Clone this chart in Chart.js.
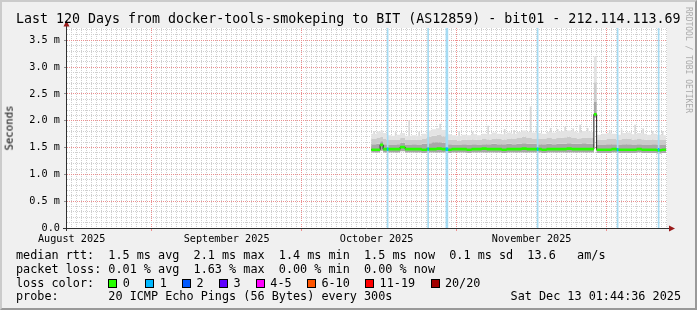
<!DOCTYPE html>
<html>
<head>
<meta charset="utf-8">
<script src="https://cdn.jsdelivr.net/npm/chart.js@4.4.1/dist/chart.umd.min.js"></script>
<style>
  html, body { margin: 0; padding: 0; background: #f0f0f0; }
  #frame { position: relative; width: 697px; height: 310px; overflow: hidden; background: #f0f0f0;
    font-family: "DejaVu Sans Mono", monospace; color: #000; }
  #shade { position: absolute; left: 0; top: 0; width: 697px; height: 310px; box-sizing: border-box;
    border: 2px solid; border-color: #cbcbcb #999999 #999999 #cbcbcb; pointer-events: none; }
  #chart { position: absolute; left: 0; top: 0; }
  .txt { position: absolute; white-space: pre; line-height: 1; }
  .legend { left: 16px; font-size: 11.8px; }
  #title { left: 16px; top: 12px; font-size: 13.3px; }
  #ylabel { left: 10px; top: 128px; font-size: 10.7px; color: #000; transform: translate(-50%, -50%) rotate(-90deg); }
  #credit { left: 688px; top: 60px; font-size: 8px; color: #ababab; transform: translate(-50%, -50%) rotate(90deg); }
  #stamp { right: 16px; top: 291px; font-size: 11.8px; }
  .box { display: inline-block; width: 7px; height: 7px; border: 1px solid #000; vertical-align: -1px; margin-right: 5.4px; }
  .lbl { margin-right: 15.4px; }
</style>
</head>
<body>
<div id="frame">
  <canvas id="chart" width="697" height="260"></canvas>
  <div class="txt" id="title">Last 120 Days from docker-tools-smokeping to BIT (AS12859) - bit01 - 212.114.113.69</div>
  <div class="txt" id="ylabel">Seconds</div>
  <div class="txt" id="credit">RRDTOOL / TOBI OETIKER</div>
  <div class="txt legend" style="top:250px">median rtt:  1.5 ms avg  2.1 ms max  1.4 ms min  1.5 ms now  0.1 ms sd  13.6   am/s</div>
  <div class="txt legend" style="top:264px">packet loss: 0.01 % avg  1.63 % max  0.00 % min  0.00 % now</div>
  <div class="txt legend" id="lossRow" style="top:278px">loss color:  </div>
  <div class="txt legend" style="top:291px">probe:       20 ICMP Echo Pings (56 Bytes) every 300s</div>
  <div class="txt" id="stamp">Sat Dec 13 01:44:36 2025</div>
  <div id="shade"></div>
</div>
<script>
// x values are days counted from Aug 15 2025 00:00
const xStart = 0.0726; // Aug 15 01:44:36
const xEnd = 120.0726; // Dec 13 01:44:36
const yTop = 3.73; // ms

const monthLabelDays = [1, 32, 62, 93];
const monthLabels = ["August 2025", "September 2025", "October 2025", "November 2025"];
const monthStartDays = [17, 47, 78, 108];

const sampleDays = [
  60.9, 62, 62.7, 63.3, 64, 65, 66, 66.7, 67.7,
  69, 70, 71, 72, 73, 74, 75, 76, 77, 78, 79, 80, 81, 82, 83, 84, 85, 86, 87, 88, 89,
  90, 91, 92, 93, 94, 95, 96, 97, 98, 99, 100, 101, 102, 103, 104, 105,
  105.45, 106,
  107, 108, 109, 110, 111, 112, 113, 114, 115, 116, 117, 118, 119,
  119.9,
];

// median rtt (ms)
const medianRtt = [
  1.46, 1.46, 1.55, 1.47, 1.47, 1.47, 1.47, 1.51, 1.47,
  1.47, 1.47, 1.46, 1.47, 1.47, 1.48, 1.47, 1.46, 1.47, 1.47, 1.47, 1.46, 1.47, 1.47, 1.48, 1.47, 1.47, 1.47, 1.46, 1.47, 1.47,
  1.47, 1.48, 1.47, 1.47, 1.47, 1.46, 1.47, 1.47, 1.47, 1.47, 1.48, 1.47, 1.47, 1.47, 1.47, 1.47,
  2.12, 1.46,
  1.46, 1.46, 1.47, 1.46, 1.46, 1.46, 1.46, 1.47, 1.46, 1.46, 1.46, 1.45, 1.46,
  1.46,
];

// smoke: lowest ping, inner band, middle band, highest ping (ms)
const smokeMin = [
  1.41, 1.41, 1.44, 1.41, 1.41, 1.41, 1.41, 1.43, 1.41,
  1.41, 1.41, 1.40, 1.41, 1.41, 1.41, 1.41, 1.40, 1.41, 1.41, 1.41, 1.40, 1.41, 1.41, 1.41, 1.41, 1.41, 1.41, 1.40, 1.41, 1.41,
  1.41, 1.41, 1.41, 1.41, 1.41, 1.40, 1.41, 1.41, 1.41, 1.41, 1.41, 1.41, 1.41, 1.41, 1.41, 1.41,
  2.06, 1.40,
  1.40, 1.40, 1.41, 1.40, 1.40, 1.40, 1.40, 1.41, 1.40, 1.40, 1.40, 1.39, 1.40,
  1.40,
];
const smokeLow = [
  1.56, 1.57, 1.62, 1.56, 1.55, 1.55, 1.56, 1.59, 1.55,
  1.56, 1.55, 1.57, 1.58, 1.60, 1.60, 1.59, 1.56, 1.55, 1.55, 1.56, 1.55, 1.56, 1.55, 1.56, 1.56, 1.57, 1.56, 1.56, 1.57, 1.56,
  1.57, 1.58, 1.57, 1.57, 1.56, 1.56, 1.57, 1.56, 1.57, 1.57, 1.58, 1.57, 1.57, 1.58, 1.57, 1.57,
  2.36, 1.55,
  1.55, 1.56, 1.56, 1.55, 1.56, 1.56, 1.55, 1.56, 1.55, 1.55, 1.56, 1.55, 1.55,
  1.55,
];
const smokeMid = [
  1.66, 1.68, 1.70, 1.66, 1.64, 1.64, 1.65, 1.68, 1.64,
  1.65, 1.64, 1.67, 1.70, 1.72, 1.74, 1.71, 1.65, 1.64, 1.63, 1.65, 1.64, 1.65, 1.64, 1.66, 1.65, 1.67, 1.66, 1.65, 1.67, 1.66,
  1.68, 1.70, 1.68, 1.67, 1.66, 1.66, 1.68, 1.67, 1.68, 1.69, 1.70, 1.68, 1.67, 1.69, 1.68, 1.68,
  2.72, 1.64,
  1.65, 1.66, 1.66, 1.64, 1.66, 1.67, 1.65, 1.66, 1.65, 1.64, 1.65, 1.64, 1.64,
  1.64,
];
const smokeMax = [
  1.76, 1.80, 1.80, 1.77, 1.73, 1.72, 1.74, 1.77, 1.72,
  1.73, 1.72, 1.76, 1.82, 1.84, 1.86, 1.83, 1.75, 1.73, 1.72, 1.74, 1.73, 1.75, 1.73, 1.76, 1.75, 1.78, 1.76, 1.75, 1.78, 1.76,
  1.79, 1.82, 1.79, 1.78, 1.77, 1.76, 1.79, 1.78, 1.80, 1.81, 1.82, 1.80, 1.78, 1.81, 1.80, 1.79,
  3.20, 1.74,
  1.76, 1.77, 1.76, 1.74, 1.77, 1.78, 1.75, 1.77, 1.76, 1.74, 1.76, 1.74, 1.73,
  1.73,
];

// single tall pings sticking out of the smoke
const spikeDays = [
  61.5, 63.0, 65.8, 68.5, 70.5, 74.7, 78.5, 81.2, 84.3, 87.6, 89.5, 92.8, 94.0,
  96.8, 98.2, 99.7, 101.3, 102.7, 104.2, 108.6, 111.0, 113.7, 115.3, 117.2, 119.2,
];
const spikeTop = [
  1.80, 1.82, 1.78, 2.0, 1.79, 1.94, 1.80, 1.79, 1.9, 1.84, 1.82, 2.26, 1.87,
  1.86, 1.84, 1.88, 1.85, 1.92, 1.86, 1.82, 1.83, 1.92, 1.85, 1.80, 1.80,
];
const spikeBottom = 1.6;

// intervals with packet loss
const lossDays = [64.2, 72.3, 75.95, 76.15, 94.2, 110.2, 118.4];
const lossCount = [1, 1, 1, 1, 1, 1, 1];
const lossMedian = [1.47, 1.47, 1.47, 1.47, 1.47, 1.46, 1.46];

const lossLabels = ["0", "1", "2", "3", "4-5", "6-10", "11-19", "20/20"];
const lossColors = ["#26ff00", "#00b8ff", "#0059ff", "#5e00ff", "#ff00fe", "#ff5500", "#ff0000", "#a10000"];

// legend color boxes
const lossRow = document.getElementById("lossRow");
lossLabels.forEach((label, i) => {
  const box = document.createElement("span");
  box.className = "box";
  box.style.background = lossColors[i];
  const txt = document.createElement("span");
  txt.className = "lbl";
  txt.textContent = label;
  lossRow.appendChild(box);
  lossRow.appendChild(txt);
});

const bandHalf = 0.025; // half thickness of the coloured median band
const pts = (arr) => sampleDays.map((d, i) => ({ x: d, y: arr[i] }));
const none = "rgba(0,0,0,0)";

function smokeLayer(arr, fillTo, color, order) {
  return {
    type: "line", data: pts(arr), stepped: true, pointRadius: 0,
    borderWidth: 0, borderColor: none, backgroundColor: color,
    fill: fillTo, order: order,
  };
}

const dayTicks = [];
for (let d = 1; d <= 120; d++) dayTicks.push(d);
const msTicks = [];
for (let i = 0; i <= 37; i++) msTicks.push(i / 10);

const isMajorMs = (v) => Math.round(v * 10) % 5 === 0;
const minorGrid = "#cfcfcf";
const majorGrid = "#ec8f8f";
const tickFont = { family: "DejaVu Sans Mono", size: 10.2 };

const frame = {
  id: "frame",
  beforeDraw(chart) {
    const { ctx, chartArea: a } = chart;
    ctx.save();
    ctx.fillStyle = "#ffffff";
    ctx.fillRect(a.left, a.top, a.right - a.left, a.bottom - a.top);
    ctx.restore();
  },
  afterDraw(chart) {
    const { ctx, chartArea: a } = chart;
    ctx.save();
    ctx.strokeStyle = "#303030";
    ctx.lineWidth = 1;
    ctx.beginPath();
    ctx.moveTo(a.left - 0.5, a.bottom + 3);
    ctx.lineTo(a.left - 0.5, a.top - 3);
    ctx.moveTo(a.left - 4, a.bottom + 0.5);
    ctx.lineTo(a.right + 3, a.bottom + 0.5);
    ctx.stroke();
    ctx.fillStyle = "#991b1b";
    ctx.beginPath();
    ctx.moveTo(a.left - 0.5, a.top - 7.5);
    ctx.lineTo(a.left - 3.5, a.top - 1.5);
    ctx.lineTo(a.left + 2.5, a.top - 1.5);
    ctx.closePath();
    ctx.fill();
    ctx.beginPath();
    ctx.moveTo(a.right + 8, a.bottom + 0.5);
    ctx.lineTo(a.right + 2, a.bottom - 2.5);
    ctx.lineTo(a.right + 2, a.bottom + 3.5);
    ctx.closePath();
    ctx.fill();
    ctx.restore();
  },
};

new Chart(document.getElementById("chart"), {
  type: "line",
  data: {
    datasets: [
      smokeLayer(smokeMin, false, none, 14), // 0
      smokeLayer(smokeLow, 0, "#a8a8a8", 13), // 1
      smokeLayer(smokeMid, 1, "#cbcbcb", 12), // 2
      smokeLayer(smokeMax, 2, "#e3e3e3", 11), // 3
      {
        type: "line", data: pts(medianRtt.map((v) => v - bandHalf)), stepped: true,
        pointRadius: 0, borderWidth: 0, borderColor: none, fill: false, order: 5,
      }, // 4
      {
        type: "line", data: pts(medianRtt.map((v) => v + bandHalf)), stepped: true,
        pointRadius: 0, borderWidth: 0, borderColor: none, backgroundColor: lossColors[0],
        fill: 4, order: 3,
      }, // 5
      {
        type: "line", data: pts(medianRtt), stepped: true, pointRadius: 0,
        borderWidth: 1, borderColor: "#202020", fill: false, order: 4,
      },
      {
        type: "bar", data: spikeDays.map((d, i) => ({ x: d, y: [spikeBottom, spikeTop[i]] })),
        barThickness: 1, grouped: false, backgroundColor: "#d8d8d8", order: 16,
      },
      {
        type: "bar", data: lossDays.map((d) => ({ x: d, y: [0, 1] })), yAxisID: "yLoss",
        barThickness: 1, grouped: false, backgroundColor: "#a6dbf3", order: 8,
      },
      {
        type: "bar",
        data: lossDays.map((d, i) => ({ x: d, y: [lossMedian[i] - bandHalf, lossMedian[i] + bandHalf] })),
        barThickness: 1, grouped: false,
        backgroundColor: lossCount.map((c) => lossColors[c]), order: 1,
      },
    ],
  },
  options: {
    responsive: false,
    animation: false,
    events: [],
    layout: { padding: { left: 0, top: 28, right: 30, bottom: 0 } },
    plugins: {
      legend: { display: false },
      tooltip: { enabled: false },
      filler: { propagate: false },
    },
    scales: {
      x: {
        type: "linear", min: xStart, max: xEnd, offset: false,
        afterFit: (s) => { s.height = 32; },
        afterBuildTicks: (s) => { s.ticks = dayTicks.map((v) => ({ value: v })); },
        ticks: {
          autoSkip: false, maxRotation: 0, padding: 2, color: "#000", font: tickFont,
          callback: (v) => { const i = monthLabelDays.indexOf(v); return i >= 0 ? monthLabels[i] : ""; },
        },
        grid: {
          offset: false, tickLength: 3,
          color: (c) => (monthStartDays.includes(c.tick.value) ? majorGrid : minorGrid),
          tickColor: (c) => (monthStartDays.includes(c.tick.value) ? majorGrid : none),
        },
        border: { display: false, dash: [1, 1] },
      },
      y: {
        type: "linear", min: 0, max: yTop,
        afterFit: (s) => { s.width = 67; },
        afterBuildTicks: (s) => { s.ticks = msTicks.map((v) => ({ value: v })); },
        ticks: {
          autoSkip: false, padding: 4, color: "#000", font: tickFont,
          callback: (v) => (isMajorMs(v) ? (v === 0 ? "0.0" : v.toFixed(1) + " m") : ""),
        },
        grid: {
          tickLength: 3,
          color: (c) => (c.tick.value === 0 ? none : isMajorMs(c.tick.value) ? majorGrid : minorGrid),
          tickColor: (c) => (isMajorMs(c.tick.value) ? "#909090" : none),
        },
        border: { display: false, dash: [1, 1] },
      },
      yLoss: { type: "linear", min: 0, max: 1, display: false },
    },
  },
  plugins: [frame],
});
</script>
</body>
</html>
